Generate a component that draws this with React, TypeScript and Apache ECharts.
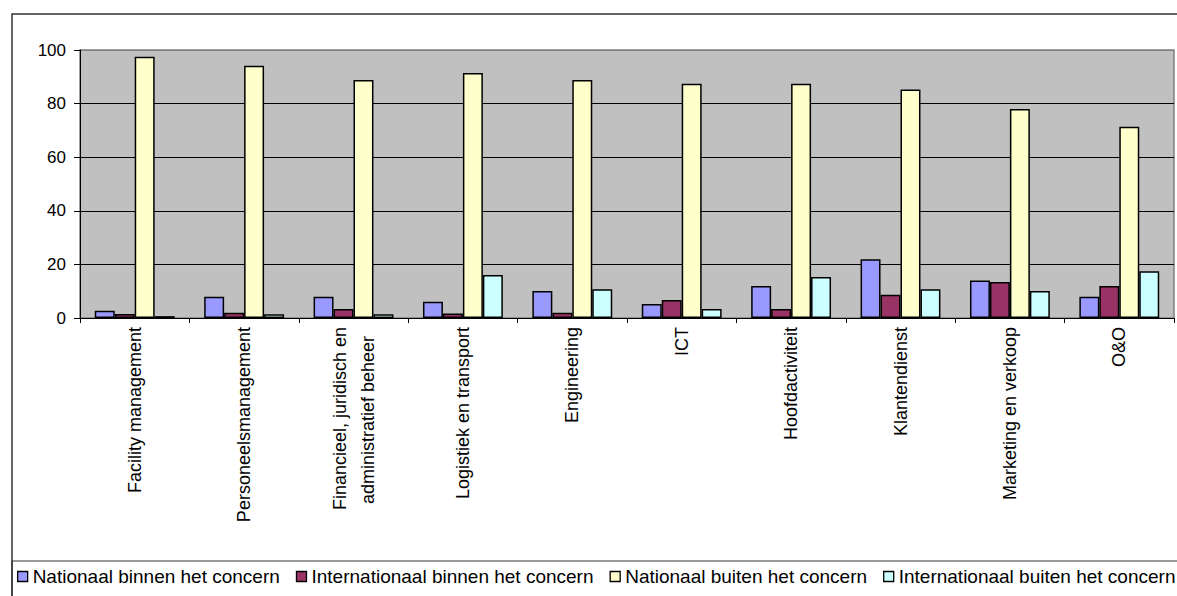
import React, { useEffect, useRef } from "react";
import * as echarts from "echarts";

const categories = [
  "Facility management",
  "Personeelsmanagement",
  "Financieel, juridisch en\nadministratief beheer",
  "Logistiek en transport",
  "Engineering",
  "ICT",
  "Hoofdactiviteit",
  "Klantendienst",
  "Marketing en verkoop",
  "O&O",
];

const seriesNames = [
  "Nationaal binnen het concern",
  "Internationaal binnen het concern",
  "Nationaal buiten het concern",
  "Internationaal buiten het concern",
];

const nationaalBinnen = [2.7, 7.9, 7.9, 6.1, 10.1, 5.2, 11.9, 21.9, 14.0, 7.9];
const internationaalBinnen = [1.5, 2.0, 3.4, 1.7, 2.0, 6.7, 3.4, 8.7, 13.4, 11.9];
const nationaalBuiten = [97.5, 94.1, 88.8, 91.4, 88.8, 87.4, 87.4, 85.3, 78.0, 71.4];
const internationaalBuiten = [0.7, 1.4, 1.4, 16.0, 10.7, 3.4, 15.3, 10.7, 10.1, 17.4];

const seriesColors = ["#9999ff", "#993366", "#ffffcc", "#ccffff"];

const FONT = "'Liberation Sans', Arial, sans-serif";

export default function App() {
  const ref = useRef<HTMLDivElement>(null);

  useEffect(() => {
    if (!ref.current) return;
    const chart = echarts.init(ref.current, undefined, { renderer: "svg" });
    const values = [nationaalBinnen, internationaalBinnen, nationaalBuiten, internationaalBuiten];

    chart.setOption({
      animation: false,
      backgroundColor: "#ffffff",
      textStyle: { fontFamily: FONT },
      graphic: [
        {
          type: "rect",
          silent: true,
          z: -1,
          shape: { x: 12, y: 14, width: 1200, height: 620 },
          style: { fill: "none", stroke: "#333333", lineWidth: 1.5 },
        },
        {
          type: "rect",
          silent: true,
          z: -1,
          shape: { x: 12, y: 561, width: 1200, height: 80 },
          style: { fill: "none", stroke: "#333333", lineWidth: 1.2 },
        },
      ],
      grid: {
        left: 80,
        right: 3,
        top: 50,
        bottom: 278,
        show: true,
        backgroundColor: "#c0c0c0",
        borderColor: "#808080",
        borderWidth: 1.5,
      },
      legend: {
        data: seriesNames,
        left: 17,
        top: 567,
        width: 1160,
        padding: 0,
        itemWidth: 10,
        itemHeight: 10,
        itemGap: 16,
        icon: "rect",
        itemStyle: { borderColor: "#000000", borderWidth: 1.3 },
        textStyle: { fontSize: 19, color: "#000000", fontFamily: FONT },
      },
      xAxis: {
        type: "category",
        data: categories,
        axisLine: { show: true, lineStyle: { color: "#000000", width: 1 } },
        axisTick: { show: true, length: 5, interval: 0, lineStyle: { color: "#000000" } },
        splitLine: { show: false },
        axisLabel: {
          interval: 0,
          rotate: 90,
          margin: 9,
          fontSize: 18,
          lineHeight: 28,
          color: "#000000",
          fontFamily: FONT,
          formatter: (v: string) => {
            const lines = v.split("\n");
            if (lines.length < 2) return v;
            return lines[0] + "\n{b|" + lines[1] + "}";
          },
          rich: {
            b: {
              fontSize: 18,
              lineHeight: 28,
              color: "#000000",
              fontFamily: FONT,
              padding: [0, 9, 0, 0],
            },
          },
        },
      },
      yAxis: {
        type: "value",
        min: 0,
        max: 100,
        interval: 20,
        axisLine: { show: true, lineStyle: { color: "#000000", width: 1 } },
        axisTick: { show: true, length: 6, lineStyle: { color: "#000000" } },
        axisLabel: { fontSize: 17, color: "#000000", margin: 14, fontFamily: FONT },
        splitLine: {
          show: true,
          lineStyle: {
            color: ["#000000", "#000000", "#000000", "#000000", "#000000", "#808080"],
            width: 1,
          },
        },
      },
      series: seriesNames.map((name, i) => ({
        name,
        type: "bar",
        data: values[i],
        barGap: "0%",
        barCategoryGap: "27%",
        itemStyle: { color: seriesColors[i], borderColor: "#000000", borderWidth: 1.5 },
      })),
    });

    return () => chart.dispose();
  }, []);

  return (
    <div
      ref={ref}
      style={{ position: "fixed", left: 0, top: 0, width: 1177, height: 596, background: "#ffffff" }}
    />
  );
}
